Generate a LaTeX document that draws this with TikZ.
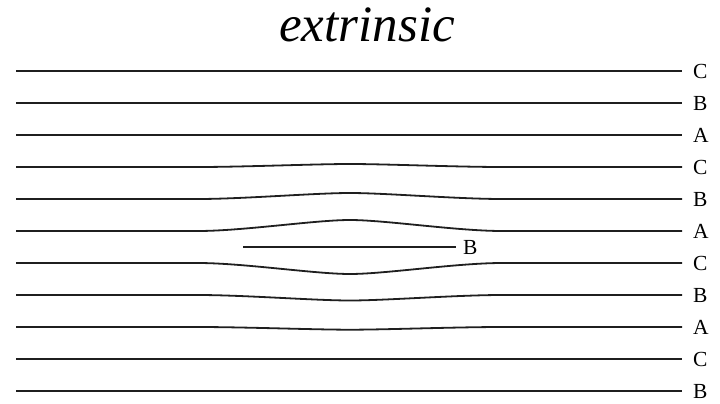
\documentclass[tikz,border=0pt]{standalone}
\usepackage{fontspec}
\setmainfont{Liberation Serif}
\begin{document}
\begin{tikzpicture}[x=1pt,y=-1pt,
  layer/.style={line width=1.8pt,draw=black!88},
  lab/.style={anchor=west,inner sep=0pt,font=\fontsize{21.5}{21.5}\selectfont},
  ttl/.style={anchor=base,inner sep=0pt,font=\fontsize{51}{51}\selectfont\itshape}]
\useasboundingbox (0,0) rectangle (720,404);
\node[ttl] (title) at (367,42) {extrinsic};
% straight layers
\foreach \y/\t/\n in {71/C/l1,103/B/l2,135/A/l3,359/C/l10,391/B/l11}{
  \node[lab] (\n) at (693,\y) {\t};
  \coordinate (\n s) at (16,\y);
  \coordinate (\n e) at (682,\y);
  \draw[layer] (\n s) -- (\n e);
}
% deformed layers: y, label, name, amplitude (negative = upward)
\foreach \y/\t/\n/\h in {167/C/l4/-3,199/B/l5/-6,231/A/l6/-11,263/C/l7/11,295/B/l8/5.5,327/A/l9/2.7}{
  \node[lab] (\n) at (693,\y) {\t};
  \coordinate (\n s) at (16,\y);
  \coordinate (\n a) at (198,\y);
  \coordinate (\n p) at (350,\y+\h);
  \coordinate (\n b) at (502,\y);
  \coordinate (\n e) at (682,\y);
  \draw[layer] (\n s) -- (\n a)
    .. controls +(45,0) and +(-35,0) .. (\n p)
    .. controls +(35,0) and +(-45,0) .. (\n b) -- (\n e);
}
% inserted layer
\coordinate (ins) at (243,247);
\node[lab] (insB) at (463,247) {B};
\coordinate (inse) at (456,247);
\draw[layer] (ins) -- (inse);
\end{tikzpicture}
\end{document}
